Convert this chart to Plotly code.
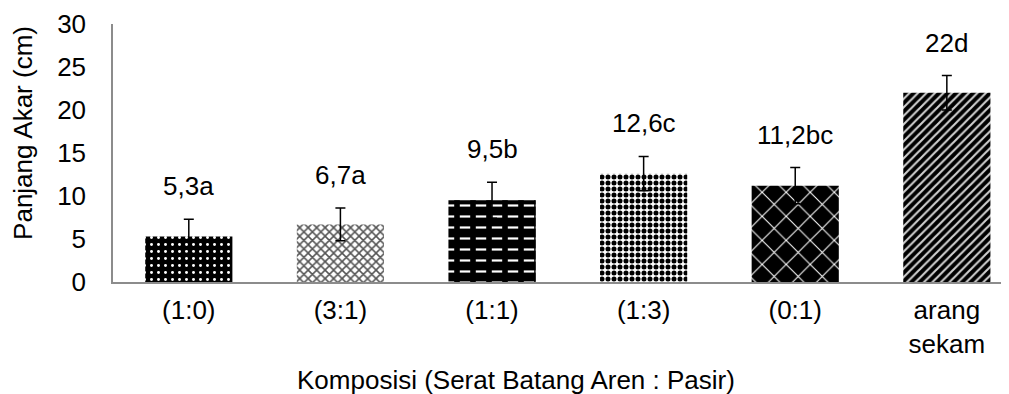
import plotly.graph_objects as go

categories = ["(1:0)", "(3:1)", "(1:1)", "(1:3)", "(0:1)", "arang<br>sekam"]
values = [5.3, 6.7, 9.5, 12.6, 11.2, 22]
errors = [2.0, 1.9, 2.1, 2.0, 2.1, 2.0]
labels = ["5,3a", "6,7a", "9,5b", "12,6c", "11,2bc", "22d"]
y_ticks = [0, 5, 10, 15, 20, 25, 30]

FONT = "Liberation Sans, Arial, sans-serif"
FS = 26

shapes = [".", "x", "-", ".", "x", "/"]
bgs = ["black", "white", "black", "white", "black", "black"]
fgs = ["white", "#555555", "white", "black", "white", "#d0d0d0"]
sizes = [7, 6, 11, 6, 17, 6]
solid = [0.14, 0.45, 0.2, 0.55, 0.12, 0.35]

fig = go.Figure()
fig.add_trace(go.Bar(
    x=categories, y=values, width=0.575,
    marker=dict(color="black", line=dict(width=0),
                pattern=dict(shape=shapes, bgcolor=bgs, fgcolor=fgs,
                             size=sizes, solidity=solid, fillmode="replace")),
    error_y=dict(type="data", array=errors, visible=True, color="black",
                 thickness=1.5, width=5),
    showlegend=False,
))

# dash breaks for the (1:1) bar
overlay_y = [v if i == 2 else None for i, v in enumerate(values)]
fig.add_trace(go.Bar(
    x=categories, y=overlay_y, width=0.575,
    marker=dict(color="black", line=dict(width=0),
                pattern=dict(shape="|", fgcolor="black", fgopacity=1,
                             bgcolor="rgba(0,0,0,0)",
                             size=16, solidity=0.35, fillmode="replace")),
    showlegend=False, hoverinfo="skip",
))

for c, v, e, t in zip(categories, values, errors, labels):
    fig.add_annotation(x=c, y=v + e, text=t, showarrow=False, yshift=33,
                       yanchor="middle", font=dict(family=FONT, size=FS, color="black"))

fig.add_annotation(xref="paper", yref="paper", x=-0.1004, y=0.578, text="Panjang Akar (cm)",
                   textangle=-90, showarrow=False, xanchor="center", yanchor="middle",
                   font=dict(family=FONT, size=FS, color="black"))
fig.add_annotation(xref="paper", yref="paper", x=0.45, y=-0.380,
                   text="Komposisi (Serat Batang Aren : Pasir)",
                   showarrow=False, xanchor="center", yanchor="middle",
                   font=dict(family=FONT, size=FS, color="black"))

# page body has an 8px margin, so the figure is sized/offset to compensate
fig.update_layout(
    width=1001, height=386,
    margin=dict(l=105, r=0, t=16, b=112, autoexpand=False),
    plot_bgcolor="white", paper_bgcolor="white",
    barmode="overlay",
    font=dict(family=FONT, size=FS, color="black"),
    xaxis=dict(range=[-0.5, 5.41], showgrid=False, zeroline=False, showline=True,
               linecolor="#8c8c8c", linewidth=1.5, ticks="", ticklabelstandoff=4,
               automargin=False,
               tickfont=dict(family=FONT, size=FS, color="black")),
    yaxis=dict(range=[0, 30], tickvals=y_ticks, showgrid=False, zeroline=False,
               showline=True, linecolor="#8c8c8c", linewidth=1.5, ticks="",
               ticklabelstandoff=20, automargin=False,
               tickfont=dict(family=FONT, size=FS, color="black")),
)

fig.write_html("out.html")
